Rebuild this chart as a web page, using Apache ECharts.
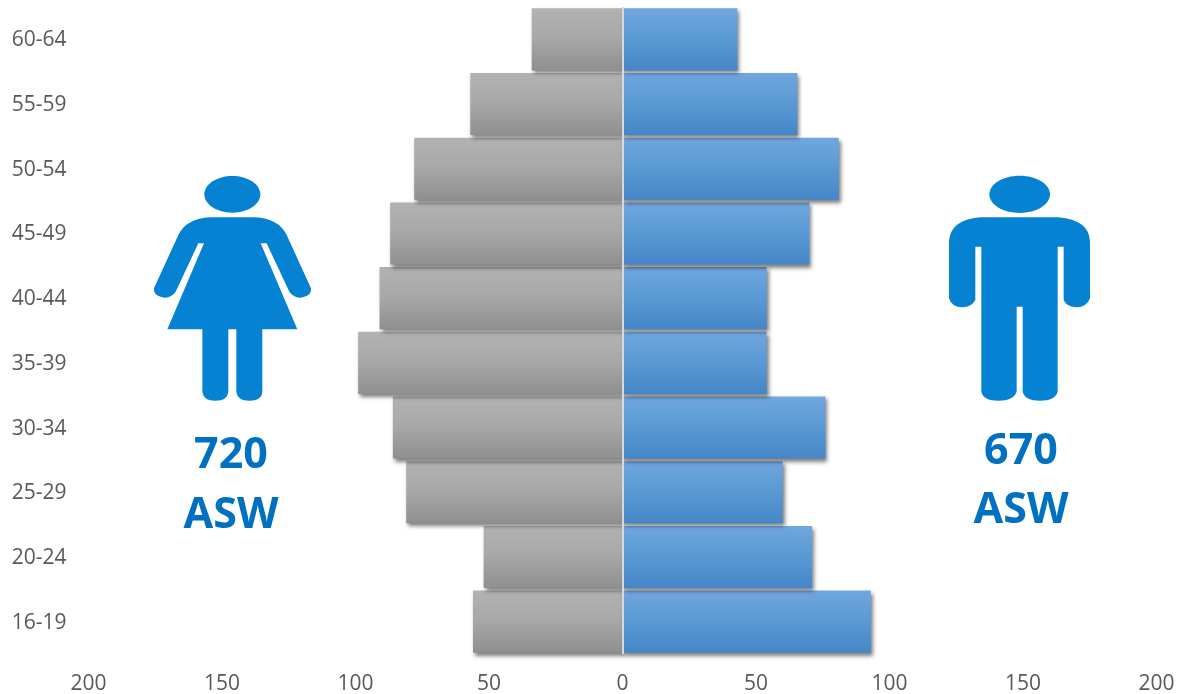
<!DOCTYPE html>
<html><head><meta charset="utf-8">
<script src="https://cdn.jsdelivr.net/npm/echarts@6/dist/echarts.min.js"></script>
<style>html,body{margin:0;padding:0;background:#fff}#c{width:1181px;height:694px}</style>
</head><body><div id="c"></div>
<script>
const categories = ['16-19','20-24','25-29','30-34','35-39','40-44','45-49','50-54','55-59','60-64'];
const female = [56,52,81,86,99,91,87,78,57,34];
const male = [93,71,60,76,54,54,70,81,65.5,43];
const femaleTotal = ['720','ASW'];
const maleTotal = ['670','ASW'];
const font = '"Open Sans"';
const grad = (a,b)=>new echarts.graphic.LinearGradient(0,0,0,1,[{offset:0,color:a},{offset:0.45,color:b[0]},{offset:1,color:b[1]}]);
const womanBody = 'M240 172L375 172Q445 175 470 225L543 385Q545 410 510 413Q490 412 478 395L410 250L392 250L502 508L397 508L397 695Q395 722 358 722Q322 722 319 695L319 508L295 508L295 695Q292 722 256 722Q220 722 217 695L217 508L112 508L222 250L205 250L137 395Q125 412 105 413Q70 410 72 385L145 225Q170 175 240 172Z';
const manBody = 'M150 172L385 172Q478 180 480 245L480 415Q470 442 440 442Q410 442 401 420L401 260L383 260L383 695Q375 722 330 722Q285 722 278 695L278 440L260 440L260 695Q250 722 205 722Q160 722 154 695L154 260L136 260L136 420Q125 442 97 442Q65 442 57 415L57 245Q60 180 150 172Z';
echarts.graphic.registerShape('womanBody', echarts.graphic.extendPath(womanBody, {}));
echarts.graphic.registerShape('manBody', echarts.graphic.extendPath(manBody, {}));
const iconFill = '#0582d2';
const txt = (x,y,t)=>({type:'text',x,y,z:10,style:{text:t,fill:'#0070c0',font:'bold 43px '+font,textAlign:'center',textVerticalAlign:'middle'}});
const chart = echarts.init(document.getElementById('c'),null,{renderer:'canvas'});
const barShadow = {shadowColor:'rgba(0,0,0,0.5)',shadowBlur:4,shadowOffsetX:2,shadowOffsetY:3};
chart.setOption({
  animation:false,
  backgroundColor:'#fff',
  grid:{left:88.5,right:24.5,top:7,bottom:40,containLabel:false,outerBoundsMode:'none'},
  xAxis:{type:'value',min:-200,max:200,interval:50,
    splitLine:{show:false},axisLine:{show:false},axisTick:{show:false},
    axisLabel:{formatter:v=>String(Math.abs(v)),color:'#595959',fontSize:21,fontFamily:font,margin:20}},
  yAxis:{type:'category',data:categories,
    axisLine:{show:false,onZero:false},axisTick:{show:false},
    axisLabel:{formatter:'{a|{value}}',margin:22,
      rich:{a:{color:'#595959',fontSize:21,fontFamily:font,padding:[2,0,0,0]}}}},
  series:[
    {name:'Female',type:'bar',stack:'p',barCategoryGap:'4%',data:female.map(v=>-v),
      itemStyle:Object.assign({color:grad('#b2b2b2',['#a9a9a9','#8f8f8f'])},barShadow)},
    {name:'Male',type:'bar',stack:'p',barCategoryGap:'4%',data:male,
      itemStyle:Object.assign({color:grad('#71a6de',['#5b9bd5','#4486c8'])},barShadow),
      markLine:{silent:true,symbol:'none',z:8,label:{show:false},lineStyle:{color:'#d9d9d9',width:2,type:'solid'},data:[{xAxis:0}]}}
  ],
  graphic:[
    {type:'group',x:130,y:160,scaleX:1/3,scaleY:1/3,z:10,children:[
      {type:'ellipse',shape:{cx:307,cy:103,rx:84,ry:55},style:{fill:iconFill}},
      {type:'womanBody',style:{fill:iconFill}}
    ]},
    {type:'group',x:930,y:160,scaleX:1/3,scaleY:1/3,z:10,children:[
      {type:'ellipse',shape:{cx:269,cy:103,rx:91,ry:56},style:{fill:iconFill}},
      {type:'manBody',style:{fill:iconFill}}
    ]},
    txt(231,456,femaleTotal[0]),txt(231,516,femaleTotal[1]),
    txt(1021,452,maleTotal[0]),txt(1021,511,maleTotal[1])
  ]
});
</script></body></html>
